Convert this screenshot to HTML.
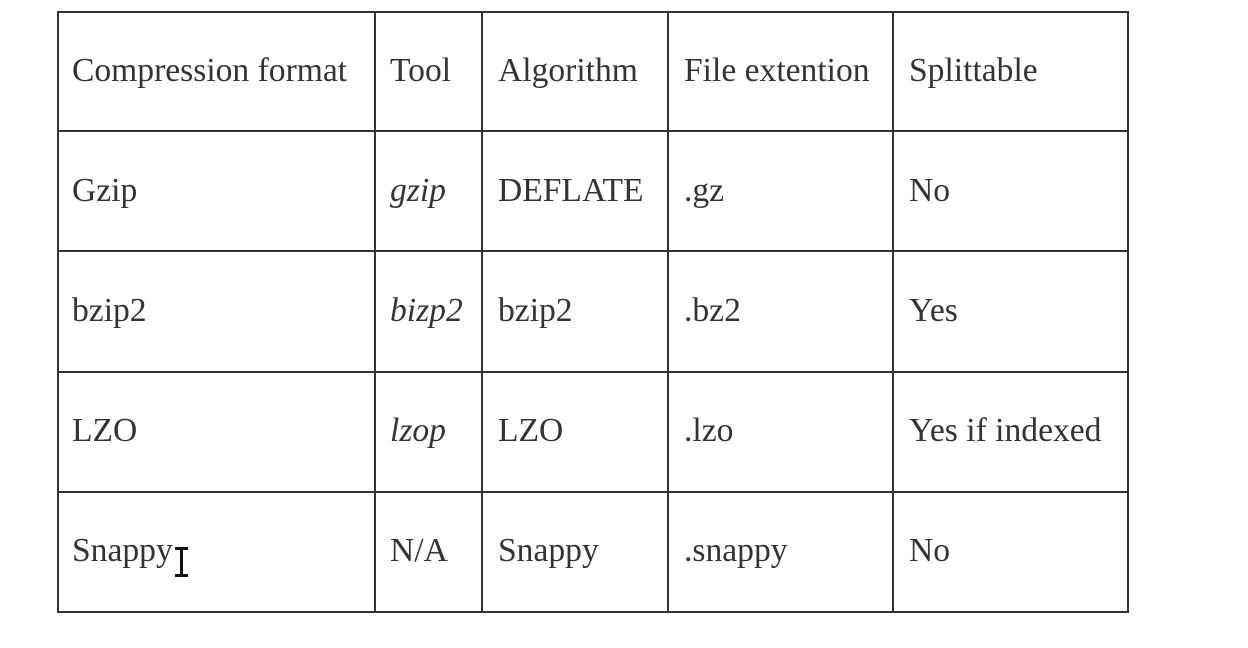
<!DOCTYPE html>
<html><head><style>
body{margin:0;width:1248px;height:648px;background:#fff;overflow:hidden;position:relative;font-family:"Liberation Serif",serif;color:#333;}
.h{position:absolute;left:57px;width:1072px;height:2px;background:#333;}
.v{position:absolute;top:11px;height:602px;width:2px;background:#333;}
.t{position:absolute;font-size:33.6px;line-height:40px;white-space:nowrap;}
i{font-style:italic;}
.cur{position:absolute;background:#111;}
</style></head><body>
<div class="h" style="top:11px"></div>
<div class="h" style="top:130px"></div>
<div class="h" style="top:250px"></div>
<div class="h" style="top:371px"></div>
<div class="h" style="top:491px"></div>
<div class="h" style="top:611px"></div>
<div class="v" style="left:57px"></div>
<div class="v" style="left:374px"></div>
<div class="v" style="left:481px"></div>
<div class="v" style="left:667px"></div>
<div class="v" style="left:892px"></div>
<div class="v" style="left:1127px"></div>

<div class="t" style="left:72px;top:51px">Compression format</div>
<div class="t" style="left:390px;top:51px">Tool</div>
<div class="t" style="left:498px;top:51px">Algorithm</div>
<div class="t" style="left:684px;top:51px">File extention</div>
<div class="t" style="left:909px;top:51px">Splittable</div>

<div class="t" style="left:72px;top:171px">Gzip</div>
<div class="t" style="left:390px;top:171px"><i>gzip</i></div>
<div class="t" style="left:498px;top:171px">DEFLATE</div>
<div class="t" style="left:684px;top:171px">.gz</div>
<div class="t" style="left:909px;top:171px">No</div>

<div class="t" style="left:72px;top:291px">bzip2</div>
<div class="t" style="left:390px;top:291px"><i>bizp2</i></div>
<div class="t" style="left:498px;top:291px">bzip2</div>
<div class="t" style="left:684px;top:291px">.bz2</div>
<div class="t" style="left:909px;top:291px">Yes</div>

<div class="t" style="left:72px;top:411px">LZO</div>
<div class="t" style="left:390px;top:411px"><i>lzop</i></div>
<div class="t" style="left:498px;top:411px">LZO</div>
<div class="t" style="left:684px;top:411px">.lzo</div>
<div class="t" style="left:909px;top:411px">Yes if indexed</div>

<div class="t" style="left:72px;top:531px">Snappy</div>
<div class="cur" style="left:180px;top:548px;width:3px;height:28px"></div>
<div class="cur" style="left:175px;top:547px;width:13px;height:3px"></div>
<div class="cur" style="left:175px;top:574px;width:13px;height:3px"></div>
<div class="t" style="left:390px;top:531px">N/A</div>
<div class="t" style="left:498px;top:531px">Snappy</div>
<div class="t" style="left:684px;top:531px">.snappy</div>
<div class="t" style="left:909px;top:531px">No</div>
</body></html>
